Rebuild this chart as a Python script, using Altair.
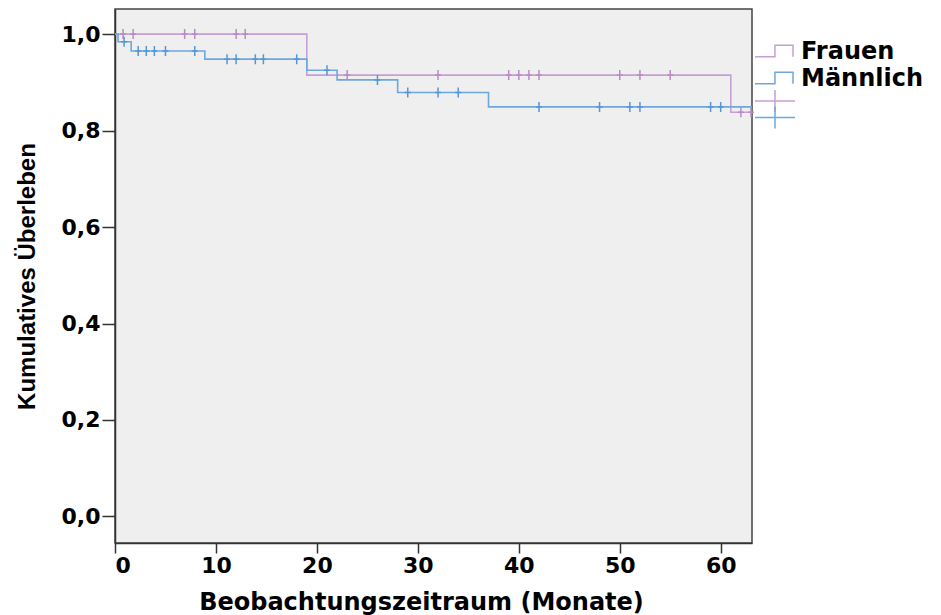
import altair as alt
import pandas as pd

# Kaplan-Meier steps
frauen_times = [0, 19.0, 61.0, 63.0]
frauen_surv = [1.0, 0.915, 0.838, 0.838]
frauen_censor = [0.8, 1.8, 6.9, 7.9, 12.0, 12.9, 23.0, 32.0, 39.0, 40.0, 41.0,
                 42.0, 50.0, 52.0, 55.0, 62.0, 63.0]

maenner_times = [0, 0.3, 1.6, 8.9, 19.0, 22.0, 28.0, 37.0, 63.1]
maenner_surv = [1.0, 0.984, 0.965, 0.948, 0.925, 0.905, 0.879, 0.849, 0.849]
maenner_censor = [0.9, 2.3, 3.1, 3.9, 5.0, 7.9, 11.1, 12.0, 13.9, 14.7, 18.0,
                  21.0, 26.0, 29.0, 32.0, 34.0, 42.0, 48.0, 51.0, 52.0, 59.0, 60.0]

groups = ["Frauen", "Männlich"]
colors = ["#c6a0d4", "#6ca7dd"]
censor_colors = ["#b78cc6", "#5796d4"]

x_ticks = [0, 10, 20, 30, 40, 50, 60]
y_ticks = [0.0, 0.2, 0.4, 0.6, 0.8, 1.0]


def step_value(times, surv, t):
    v = surv[0]
    for ti, si in zip(times, surv):
        if ti <= t:
            v = si
    return v


rows = []
for g, ts, ss in [("Frauen", frauen_times, frauen_surv), ("Männlich", maenner_times, maenner_surv)]:
    for i, (t, s) in enumerate(zip(ts, ss)):
        rows.append({"Gruppe": g, "Zeit": t, "Surv": s, "ord": i})
steps = pd.DataFrame(rows)

crows = []
for g, cs, ts, ss in [("Frauen", frauen_censor, frauen_times, frauen_surv),
                      ("Männlich", maenner_censor, maenner_times, maenner_surv)]:
    for c in cs:
        crows.append({"Gruppe": g, "Zeit": c, "Surv": step_value(ts, ss, c)})
cens = pd.DataFrame(crows)

one = pd.DataFrame({"k": [0]})

FONT = "DejaVu Sans"

xs = alt.Scale(domain=[0, 63.1], nice=False, zero=False)
ys = alt.Scale(domain=[-0.055, 1.052], nice=False, zero=False)

x_axis = alt.Axis(values=x_ticks, title="Beobachtungszeitraum (Monate)", grid=False,
                  labelFont=FONT, labelFontWeight="bold", labelFontSize=22, labelColor="#000",
                  tickSize=10, tickColor="#333", tickWidth=1.5, labelPadding=2,
                  domainColor="#333", domainWidth=1.5,
                  titleFont=FONT, titleFontWeight="bold", titleFontSize=24, titleColor="#000",
                  titleX=306, titleY=59, titleBaseline="middle", titleAlign="center")
y_axis = alt.Axis(values=y_ticks, title="Kumulatives Überleben", grid=False,
                  labelExpr="replace(format(datum.value, '.1f'), '.', ',')",
                  labelFont=FONT, labelFontWeight="bold", labelFontSize=22, labelColor="#000",
                  tickSize=13, tickColor="#333", tickWidth=1.5, labelPadding=2,
                  domainColor="#333", domainWidth=1.5,
                  titleFont="Liberation Sans", titleFontWeight="bold", titleFontSize=24,
                  titleColor="#000", titleX=-88, titleY=267, titleAngle=270,
                  titleBaseline="middle", titleAlign="center")

color_scale = alt.Scale(domain=groups, range=colors)
cens_scale = alt.Scale(domain=groups, range=censor_colors)

lines = alt.Chart(steps).mark_line(interpolate="step-after", strokeWidth=1.6).encode(
    x=alt.X("Zeit:Q", scale=xs, axis=x_axis),
    y=alt.Y("Surv:Q", scale=ys, axis=y_axis),
    color=alt.Color("Gruppe:N", scale=color_scale, legend=None),
    order="ord:Q",
)

ticks = alt.Chart(cens).mark_point(
    shape="M-0.6,0H0.6M0,-1V1", size=100, filled=False, strokeWidth=1.5, opacity=1
).encode(
    x=alt.X("Zeit:Q", scale=xs),
    y=alt.Y("Surv:Q", scale=ys),
    stroke=alt.Stroke("Gruppe:N", scale=cens_scale, legend=None),
)

# manual legend (SPSS style)
step_shape = "M-1,0.3H0.05V-0.3H1V0.3"
cross_shape = "M-1,0H1M0,-0.55V0.55"
leg = []
for i, (g, c) in enumerate(zip(groups, colors)):
    yy = 42 + i * 27
    leg.append(alt.Chart(one).mark_point(shape=step_shape, size=1444, filled=False,
                                         strokeWidth=1.5, color=c, opacity=1).encode(
        x=alt.value(659), y=alt.value(yy)))
    leg.append(alt.Chart(one).mark_text(text=g, align="left", baseline="middle", font=FONT,
                                        fontWeight="bold", fontSize=24, color="#000").encode(
        x=alt.value(686), y=alt.value(yy + 0.5)))
    leg.append(alt.Chart(one).mark_point(shape=cross_shape, size=1600, filled=False,
                                         strokeWidth=1.5, color=c, opacity=1).encode(
        x=alt.value(660), y=alt.value(92 + i * 16.5)))

chart = alt.layer(lines, ticks, *leg).properties(
    width=637, height=534,
    autosize=alt.AutoSizeParams(type="none"),
    padding={"left": 115, "top": 9, "right": 189, "bottom": 72},
    background="white",
).configure_view(fill="#efefef", stroke="#444", strokeWidth=1.5)

chart.save("out.html", embed_options={"renderer": "svg", "actions": False})
